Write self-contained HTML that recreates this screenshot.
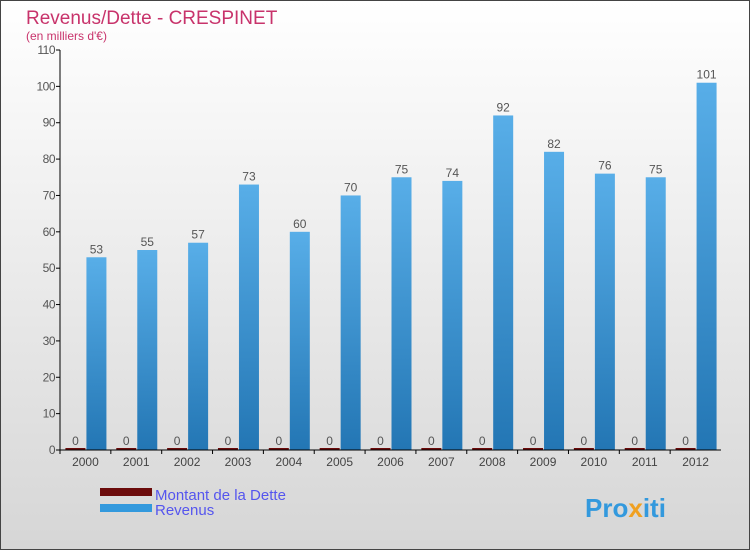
<!DOCTYPE html>
<html><head><meta charset="utf-8"><style>
html,body{margin:0;padding:0}
body{width:750px;height:550px;overflow:hidden;font-family:"Liberation Sans",sans-serif}
#wrap{position:relative;width:748px;height:548px;border:1px solid #444;background:linear-gradient(#ffffff,#d6d6d6)}
</style></head><body>
<div id="wrap">
<svg id="chart" width="748" height="548" style="position:absolute;left:0;top:0;font-family:'Liberation Sans',sans-serif"></svg>
</div>
<script>
const categories=["2000","2001","2002","2003","2004","2005","2006","2007","2008","2009","2010","2011","2012"];
const dette=[0,0,0,0,0,0,0,0,0,0,0,0,0];
const revenus=[53,55,57,73,60,70,75,74,92,82,76,75,101];
const yTicks=[0,10,20,30,40,50,60,70,80,90,100,110];
const NS="http://www.w3.org/2000/svg";
const svg=document.getElementById('chart');
const X0=59,X1=720,Y0=449,Y1=49,YMAX=110;
const bw=(X1-X0)/categories.length;
function y(v){return Y0-(v/YMAX)*(Y0-Y1);}
function cx(i){return X0+bw*(i+0.5);}
function mk(t,a,txt){const e=document.createElementNS(NS,t);for(const k in a)e.setAttribute(k,a[k]);if(txt!==undefined)e.textContent=txt;svg.appendChild(e);return e;}
const defs=mk('defs',{});
defs.innerHTML='<linearGradient id="gb" x1="0" y1="0" x2="0" y2="1"><stop offset="0" stop-color="#58aee8"/><stop offset="1" stop-color="#2376b4"/></linearGradient>';
let e;
e=mk('text',{x:25,y:23,'font-size':19,fill:'#c8336b'},'Revenus/Dette - CRESPINET');


e=mk('text',{x:25,y:39,'font-size':12,fill:'#c8336b'},"(en milliers d'€)");


yTicks.forEach(t=>{
  e=mk('text',{x:X0-5,y:y(t)+4,'font-size':12,fill:'#555','text-anchor':'end','letter-spacing':'-0.5'},String(t));
  
  
  mk('line',{x1:X0-4,x2:X0,y1:y(t),y2:y(t),stroke:'#000'});
});
categories.forEach((c,i)=>{
  const x=cx(i);
  e=mk('rect',{x:x-20,y:y(dette[i])-2,width:20,height:Math.max(2,Y0-y(dette[i])),fill:'#6b0b0b'});
  
  
  e=mk('text',{x:x-10,y:y(dette[i])-5,'font-size':12,fill:'#555','text-anchor':'middle'},String(dette[i]));
  
  
  e=mk('rect',{x:x+1,y:y(revenus[i]),width:20,height:Y0-y(revenus[i]),fill:'url(#gb)'});
  
  
  e=mk('text',{x:x+11,y:y(revenus[i])-4,'font-size':12,fill:'#555','text-anchor':'middle'},String(revenus[i]));
  
  
  e=mk('text',{x:x,y:Y0+16,'font-size':12,fill:'#444','text-anchor':'middle'},c);
  
  
  mk('line',{x1:X0+bw*i,x2:X0+bw*i,y1:Y0,y2:Y0+4,stroke:'#000'});
});
e=mk('line',{x1:X0,x2:X0,y1:Y1,y2:Y0,stroke:'#000'});


e=mk('line',{x1:X0-4,x2:X1,y1:Y0,y2:Y0,stroke:'#000'});


e=mk('rect',{x:99,y:487,width:52,height:8,fill:'#6b0b0b'});


e=mk('text',{x:154,y:499,'font-size':15,fill:'#5555ee'},'Montant de la Dette');


e=mk('rect',{x:99,y:503,width:52,height:8,fill:'#3399dd'});


e=mk('text',{x:154,y:514,'font-size':15,fill:'#5555ee'},'Revenus');


e=mk('text',{x:584,y:516,'font-size':26,'font-weight':'bold',fill:'#3399dd'});
e.innerHTML='Pro<tspan fill="#f0a020">x</tspan>iti';


</script>
</body></html>
